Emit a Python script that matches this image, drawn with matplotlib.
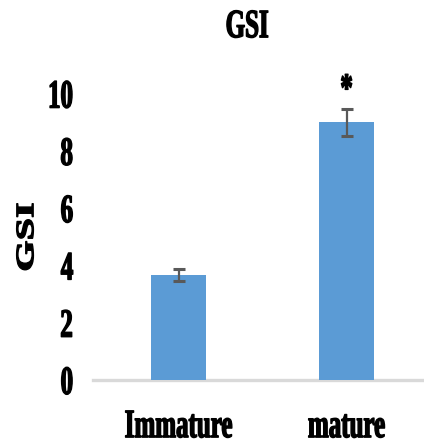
import matplotlib
matplotlib.use("Agg")
import matplotlib.pyplot as plt
from matplotlib.patheffects import AbstractPathEffect
from matplotlib.transforms import Affine2D

# ---- data ----
categories = ["Immature", "mature"]
gsi_values = [3.65, 9.0]
gsi_errors = [0.21, 0.47]
yticks = [0, 2, 4, 6, 8, 10]
significance = ["", "*"]
star_y = 9.75


class Squeeze(AbstractPathEffect):
    """Draw text narrower horizontally (condensed, heavy look)."""
    def __init__(self, sx=0.62, anchor="center", stroke=1.0):
        super().__init__()
        self.sx = sx
        self.anchor = anchor
        self.stroke = stroke

    def draw_path(self, renderer, gc, tpath, affine, rgbFace=None):
        ext = tpath.get_extents(affine)
        if self.anchor == "right":
            cx = ext.x1
        elif self.anchor == "left":
            cx = ext.x0
        else:
            cx = 0.5 * (ext.x0 + ext.x1)
        t = affine + Affine2D().translate(-cx, 0).scale(self.sx, 1).translate(cx, 0)
        gc0 = renderer.new_gc()
        gc0.copy_properties(gc)
        if self.stroke and rgbFace is not None:
            gc0.set_linewidth(self.stroke)
            gc0.set_foreground(rgbFace)
            gc0.set_joinstyle("round")
        renderer.draw_path(gc0, tpath, t, rgbFace)
        gc0.restore()


FONT = "Liberation Serif"
FS = 29
SX = 0.62

fig = plt.figure(figsize=(4.24, 4.45), dpi=100)
ax = fig.add_axes([93 / 424, 65 / 445, 330 / 424, 315 / 445])

x = list(range(len(categories)))
ax.bar(x, gsi_values, width=0.33, color="#5b9bd5", zorder=2)
ax.errorbar(x, gsi_values, yerr=gsi_errors, fmt="none", ecolor="#595959",
            elinewidth=1.6, capsize=4, capthick=2.2, zorder=3)

ax.set_xlim(-0.51, 1.455)
ax.set_ylim(0, 11)
ax.set_yticks(yticks)
ax.set_yticklabels([str(v) for v in yticks])
ax.set_xticks(x)
ax.set_xticklabels(categories)

for s in ["top", "right", "left"]:
    ax.spines[s].set_visible(False)
ax.spines["bottom"].set_color("#d9d9d9")
ax.spines["bottom"].set_linewidth(2.4)
ax.spines["bottom"].set_zorder(1)

ax.tick_params(axis="y", length=0, pad=14)
ax.tick_params(axis="x", length=0, pad=21)

for lbl in ax.get_yticklabels():
    lbl.set_fontfamily(FONT)
    lbl.set_fontweight("bold")
    lbl.set_fontsize(FS)
    lbl.set_path_effects([Squeeze(SX, "right")])
for lbl in ax.get_xticklabels():
    lbl.set_fontfamily(FONT)
    lbl.set_fontweight("bold")
    lbl.set_fontsize(FS)
    lbl.set_path_effects([Squeeze(SX, "center")])

title = ax.set_title("GSI", fontfamily=FONT, fontweight="bold", fontsize=FS,
                     x=0.467, pad=20)
title.set_path_effects([Squeeze(SX, "center")])

ylab = ax.set_ylabel("GSI", fontfamily=FONT, fontweight="bold", fontsize=FS,
                     va="center", ha="center")
ax.yaxis.set_label_coords(-0.195, 0.454)
ylab.set_path_effects([Squeeze(SX, "center")])

for xi, s in zip(x, significance):
    if s:
        t = ax.text(xi, star_y, s, ha="center", va="baseline", fontfamily=FONT,
                    fontweight="bold", fontsize=FS, clip_on=False)
        t.set_path_effects([Squeeze(SX, "center")])

fig.savefig("out.png", dpi=100)
